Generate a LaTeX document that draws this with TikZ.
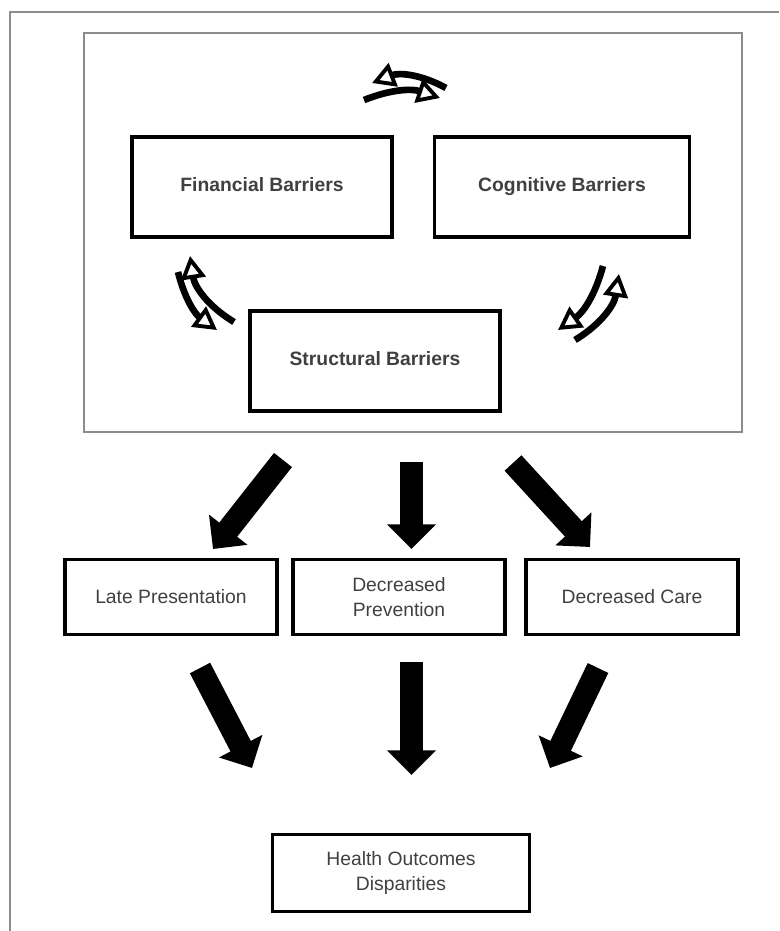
\documentclass[tikz,border=0pt]{standalone}
\usepackage{fontspec}
\setmainfont{Liberation Sans}
\usepackage{tikz}
\usetikzlibrary{positioning}
\usetikzlibrary{calc,arrows.meta}
\tikzset{
	semithick,
	box/.style = {draw, line width=2pt, inner sep=0pt, align=center,
	 text=black!75, font=\fontsize{11}{14}\selectfont},
	barrier/.style = {box, minimum width=5.2cm, minimum height=2cm,
	 text height=8pt, text depth=2.5pt,
	 font=\fontsize{11}{14}\selectfont\bfseries},
	effect/.style = {box, minimum width=4.24cm, minimum height=1.5cm},
	frame/.style = {draw=black!45, line width=0.8pt},
	fat/.style = {line width=13pt, -{Triangle[length=14pt,width=27pt]}},
	cyc/.style = {line width=3.8pt,
	 -{Triangle[open,length=13pt,width=14pt,line width=2.2pt]}},
}
\begin{document}
\begin{tikzpicture}[x=0.02cm, y=-0.02cm]
	\useasboundingbox (0,0) rectangle (779,931);
	\draw[frame] (10,931) |- (779,12);
	\node (group) [frame, minimum width=13.16cm, minimum height=7.98cm] at (413,232.5) {};
	\node (fin) [barrier] at (262,187) {Financial Barriers};
	\node (cog) [barrier, minimum width=5.1cm] at (562,187) {Cognitive Barriers};
	\node (struct) [barrier, minimum width=5cm] at (375,361) {Structural Barriers};
	\node (late) [effect] at (171,597) {Late Presentation};
	\node (prev) [effect] at (399,597) {Decreased\\Prevention};
	\node (care) [effect] at (632,597) {Decreased Care};
	\node (health) [effect, minimum width=5.14cm, minimum height=1.54cm] at (401,873) {Health Outcomes\\Disparities};
	% feedback between the barriers
	\draw[cyc] (446,88) to[bend right=25] (372,83);
	\draw[cyc] (364,100) to[bend left=20] (440,98);
	\draw[cyc] (234,322) to[bend left=25] (190,256);
	\draw[cyc] (178,272) to[bend right=20] (217,330);
	\draw[cyc] (575,340) to[bend right=25] (619,274);
	\draw[cyc] (603,266) to[bend left=20] (558,330);
	% big arrows
	\coordinate (a1) at (283,460);
	\coordinate (a2) at (411.5,462);
	\coordinate (a3) at (513,463);
	\coordinate (l1) at (213,549);
	\coordinate (p1) at (411.5,549);
	\coordinate (c1) at (590,547);
	\draw[fat] (a1) -- (l1);
	\draw[fat] (a2) -- (p1);
	\draw[fat] (a3) -- (c1);
	\coordinate (l2) at (200,668);
	\coordinate (p2) at (411.5,662);
	\coordinate (c2) at (598,668);
	\coordinate (h1) at (252,768);
	\coordinate (h2) at (411.5,775);
	\coordinate (h3) at (550,768);
	\draw[fat] (l2) -- (h1);
	\draw[fat] (p2) -- (h2);
	\draw[fat] (c2) -- (h3);
\end{tikzpicture}
\end{document}
